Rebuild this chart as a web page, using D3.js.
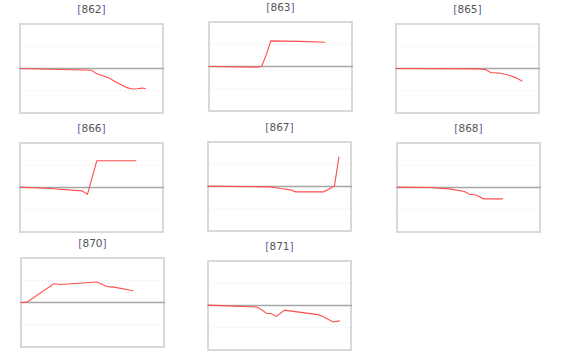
<!DOCTYPE html>
<html><head><meta charset="utf-8">
<script src="https://cdn.jsdelivr.net/npm/d3@7"></script>
<style>body{margin:0;background:#fff}svg{display:block}</style>
</head><body>
<script>
// Panel ids
const panelIds = ["862","863","865","866","867","868","870","871"];
// Series: [x (0-100), y] per panel
const s862 = [[0,0],[50.2,-0.08],[53.7,-0.24],[61.9,-0.42],[68.9,-0.67],[74.8,-0.86],[78.3,-0.92],[81.8,-0.91],[85.3,-0.88],[87.9,-0.91]];
const s863 = [[0,0],[33.4,-0.03],[36.9,0.01],[40.4,0.59],[43.2,1.15],[63.8,1.13],[81.3,1.09]];
const s865 = [[0,0],[57.9,-0.015],[62.6,-0.05],[66.1,-0.18],[73.1,-0.21],[79,-0.3],[83.6,-0.41],[88.3,-0.57]];
const s866 = [[0,0.015],[21,-0.045],[43.2,-0.15],[47.2,-0.3],[53.7,1.2],[81.3,1.2]];
const s867 = [[0,0.015],[43.7,-0.015],[50.7,-0.09],[57.7,-0.15],[61.2,-0.24],[80.9,-0.24],[83.7,-0.15],[88.4,0.015],[91.6,1.34]];
const s868 = [[0,0.015],[22.8,0],[36.7,-0.06],[47.2,-0.18],[50.7,-0.3],[55.3,-0.34],[60.5,-0.51],[74,-0.51]];
const s870 = [[0,0],[4.2,0.015],[22.9,0.84],[27.6,0.81],[53.3,0.92],[59.8,0.72],[65,0.69],[78.5,0.53]];
const s871 = [[0,0.015],[33.8,-0.07],[37.3,-0.18],[40.8,-0.35],[44.3,-0.37],[47.8,-0.49],[53.6,-0.21],[57.1,-0.24],[66.4,-0.32],[76.9,-0.41],[80.4,-0.49],[87.4,-0.74],[92.1,-0.69]];
const seriesList = [s862,s863,s865,s866,s867,s868,s870,s871];
const yTicks = [-1, 1];
const xDomain = [0, 100];
const yDomain = [-2, 2];

// layout of each panel: left, top of box, title y
const layout = [
  {x:20, y:24, ty:9},
  {x:209, y:22, ty:7},
  {x:396, y:24, ty:9},
  {x:20, y:143, ty:128},
  {x:208, y:142, ty:127},
  {x:397, y:143, ty:128},
  {x:21, y:258, ty:243},
  {x:208, y:261, ty:246}
];
const W = 143, H = 89;

const svg = d3.select("body").append("svg").attr("width",562).attr("height",355);

panelIds.forEach((id,i)=>{
  const L = layout[i];
  const g = svg.append("g").attr("transform",`translate(${L.x},${L.y})`);
  const x = d3.scaleLinear().domain(xDomain).range([0,W]);
  const y = d3.scaleLinear().domain(yDomain).range([H,0]);
  g.selectAll("line.grid").data(yTicks).join("line").attr("class","grid")
    .attr("x1",0).attr("x2",W).attr("y1",d=>y(d)).attr("y2",d=>y(d))
    .attr("stroke","#eeeeee").attr("stroke-width",1).attr("stroke-dasharray","2,2");
  g.append("rect").attr("x",0).attr("y",0).attr("width",W).attr("height",H)
    .attr("fill","none").attr("stroke","#d9d9d9").attr("stroke-width",2);
  g.append("line").attr("x1",-1).attr("x2",W+1).attr("y1",y(0)).attr("y2",y(0))
    .attr("stroke","#a6a6a6").attr("stroke-width",1.6);
  g.append("path").datum(seriesList[i])
    .attr("d", d3.line().x(d=>x(d[0])).y(d=>y(d[1])))
    .attr("fill","none").attr("stroke","#ff4d4d").attr("stroke-width",1.1);
  const t = svg.append("text").attr("x",L.x+W/2).attr("y",L.ty+4)
    .attr("text-anchor","middle").attr("font-family","DejaVu Sans, Verdana, sans-serif")
    .attr("font-size",10.5);
  t.append("tspan").attr("fill","#5a5aa0").text("[");
  t.append("tspan").attr("fill","#555").text(id);
  t.append("tspan").attr("fill","#5a5aa0").text("]");
});
</script>
</body></html>
